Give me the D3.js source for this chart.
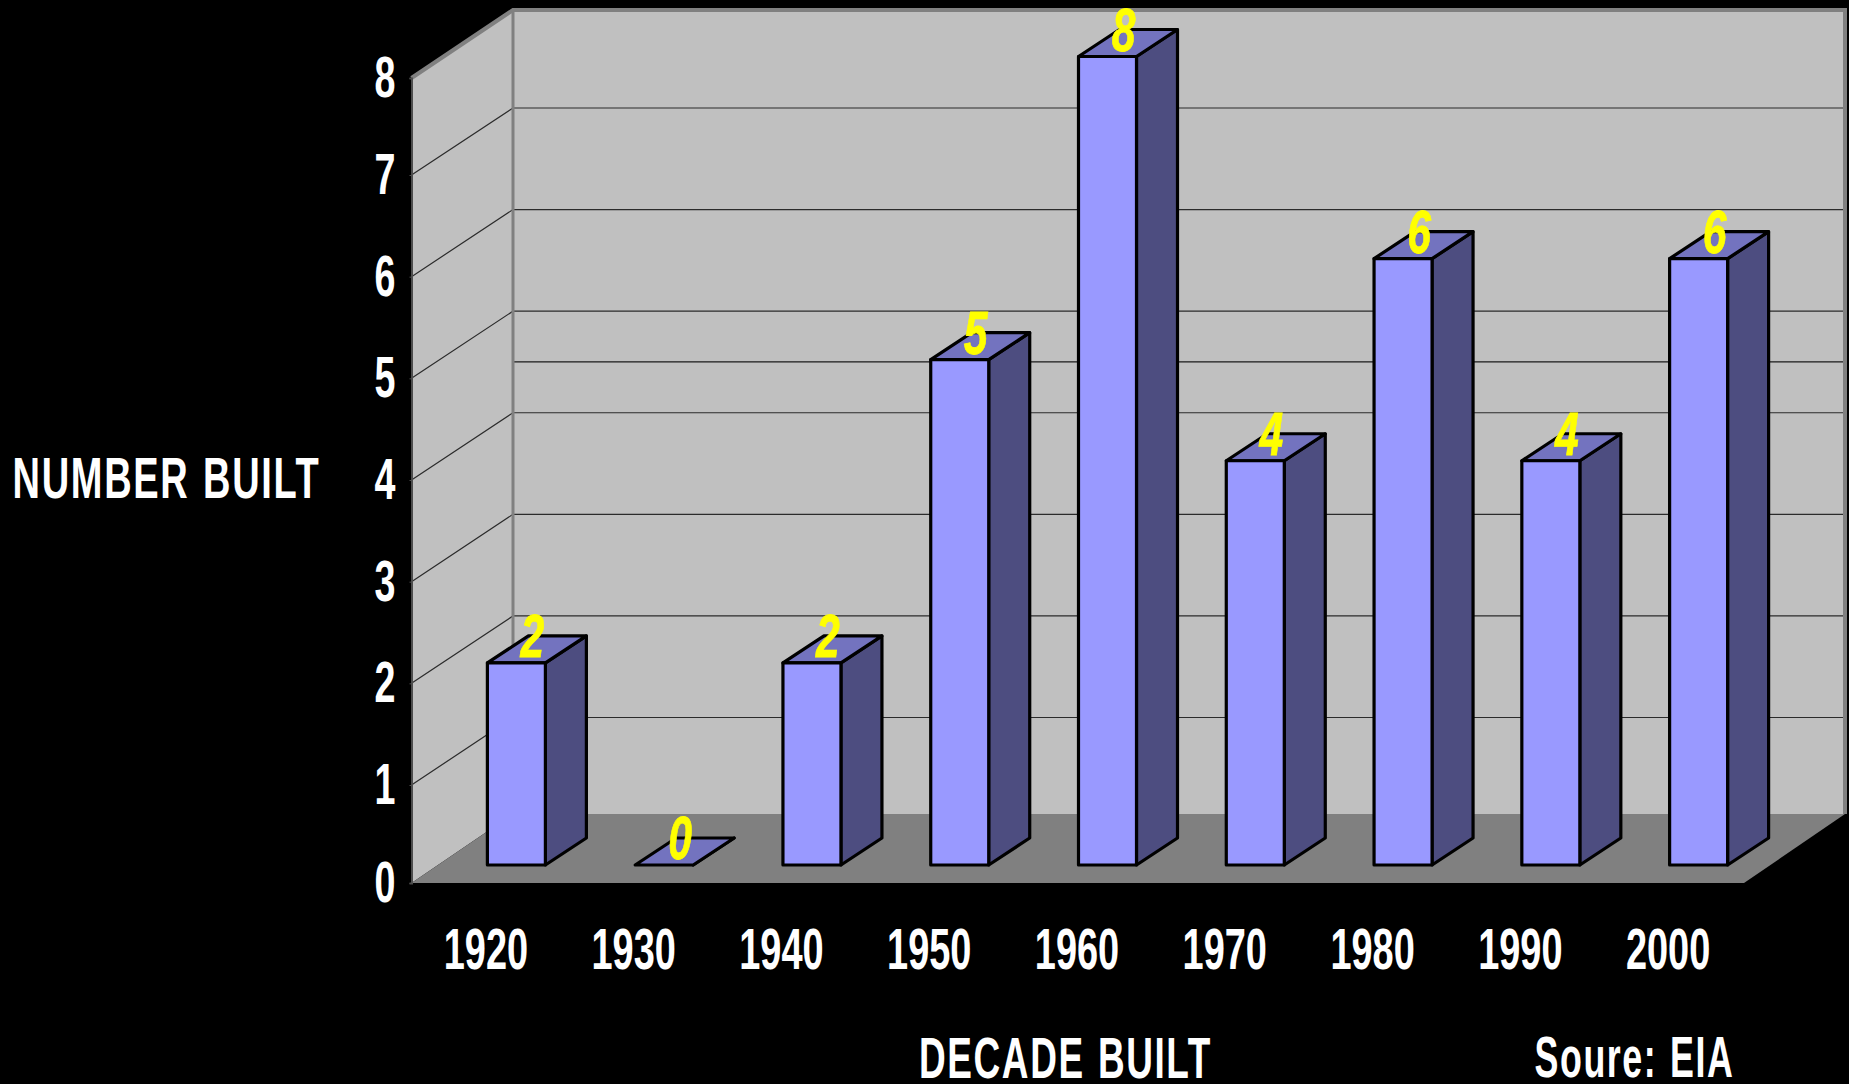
<!DOCTYPE html>
<html>
<head>
<meta charset="utf-8">
<script src="https://cdn.jsdelivr.net/npm/d3@7"></script>
<style>
html,body{margin:0;padding:0;background:#000;overflow:hidden}
svg{display:block}
text{font-family:"Liberation Sans",Arial,sans-serif;font-weight:bold}
</style>
</head>
<body>
<svg id="c" width="1849" height="1084"></svg>
<script>
const decades = ["1920","1930","1940","1950","1960","1970","1980","1990","2000"];
const numberBuilt = [2,0,2,5,8,4,6,4,6];
const yTicks = [0,1,2,3,4,5,6,7,8];
const extraGridValues = [4.5];
const yAxisTitle = "NUMBER BUILT";
const xAxisTitle = "DECADE BUILT";
const sourceNote = "Soure: EIA";

const svg = d3.select("#c");
const W0 = 411.5, W1 = 513, WR = 1845, FR = 1744;
const FLOOR_FRONT = 883, FLOOR_BACK = 814, TOP_BACK = 10, TOP_FRONT = 78;
const DX = 41, DY = -27, BAR_W = 58, BAR_SHIFT = 2;

const x = d3.scaleBand().domain(decades).range([W0, 1741.5]);
const yFront = d3.scaleLinear().domain([0,1,7,8]).range([FLOOR_FRONT,785,175,TOP_FRONT]);
const yBack  = d3.scaleLinear().domain([0,1,7,8]).range([FLOOR_BACK,717.5,108,TOP_BACK]);
const yBar   = d3.scaleLinear().domain([0,8]).range([865,56.5]);

const pts = a => a.map(p => p.join(",")).join(" ");

// walls and floor
svg.append("polygon").attr("points", pts([[W1,TOP_BACK],[WR,TOP_BACK],[WR,FLOOR_BACK],[W1,FLOOR_BACK]])).attr("fill","#c0c0c0");
svg.append("polygon").attr("points", pts([[W0,TOP_FRONT],[W1,TOP_BACK],[W1,FLOOR_BACK],[W0,FLOOR_FRONT]])).attr("fill","#c0c0c0");
svg.append("polygon").attr("points", pts([[W0,FLOOR_FRONT],[W1,FLOOR_BACK],[WR,FLOOR_BACK],[FR,FLOOR_FRONT]])).attr("fill","#808080");

// gridlines
const inner = yTicks.filter(v => v>0 && v<8);
svg.append("g").selectAll("path").data(inner).join("path")
  .attr("d", v => `M${W0},${yFront(v)}L${W1},${yBack(v)}L${WR-2},${yBack(v)}`)
  .attr("fill","none").attr("stroke","#2b2b2b").attr("stroke-width",1.2);
svg.append("g").selectAll("line").data(extraGridValues).join("line")
  .attr("x1",W1).attr("x2",WR-2).attr("y1",v=>yBack(v)).attr("y2",v=>yBack(v))
  .attr("stroke","#1a1a1a").attr("stroke-width",1.2);

// wall edges
svg.append("path").attr("d",`M${W0},${TOP_FRONT}L${W1},${TOP_BACK}L${WR},${TOP_BACK}L${WR},${FLOOR_BACK}`)
  .attr("fill","none").attr("stroke","#808080").attr("stroke-width",4);
svg.append("line").attr("x1",W1).attr("x2",W1).attr("y1",TOP_BACK).attr("y2",FLOOR_BACK)
  .attr("stroke","#808080").attr("stroke-width",3);

// y axis
const yAxis = svg.append("g").attr("transform",`translate(${W0},0)`)
  .call(d3.axisLeft(yFront).tickValues(yTicks).tickSize(2).tickFormat(d3.format("d")));
yAxis.selectAll("path.domain").attr("stroke","#4d4d4d").attr("stroke-width",2);
yAxis.selectAll(".tick line").attr("stroke","#4d4d4d");
yAxis.selectAll("text").attr("x",0).attr("dy",0).attr("y",0)
  .attr("text-anchor","end").attr("fill","#fff").style("font-size","57px")
  .attr("transform","translate(-16,18.5) scale(0.66,1)");
yAxis.attr("font-family",null).attr("font-size",null);

// x axis
const xAxis = svg.append("g").attr("transform",`translate(0,${FLOOR_FRONT})`)
  .call(d3.axisBottom(x).tickSize(0));
xAxis.select("path.domain").remove();
xAxis.selectAll("text").attr("x",0).attr("y",0).attr("dy",0)
  .attr("text-anchor","middle").attr("fill","#fff").style("font-size","57px")
  .attr("transform","translate(0.5,86) scale(0.665,1)");
xAxis.attr("font-family",null).attr("font-size",null);

// bars
const rows = decades.map((d,i)=>({d, v:numberBuilt[i]}));
const bar = svg.append("g").selectAll("g").data(rows).join("g");
const left = r => x(r.d)+x.bandwidth()/2+BAR_SHIFT;
const base = yBar(0);
bar.append("polygon").attr("points", r => { const l=left(r)+BAR_W, t=yBar(r.v);
    return pts([[l,base],[l+DX,base+DY],[l+DX,t+DY],[l,t]]); })
  .attr("fill","#4d4d80");
bar.append("polygon").attr("points", r => { const l=left(r), t=yBar(r.v);
    return pts([[l,t],[l+DX,t+DY],[l+BAR_W+DX,t+DY],[l+BAR_W,t]]); })
  .attr("fill","#7373bf");
bar.append("rect").attr("x",left).attr("y",r=>yBar(r.v)).attr("width",BAR_W).attr("height",r=>base-yBar(r.v))
  .attr("fill","#9999ff");
bar.selectAll("polygon,rect").attr("stroke","#000").attr("stroke-width",3.2).attr("stroke-linejoin","round");

// value labels
svg.append("g").selectAll("text").data(rows).join("text")
  .text(r=>r.v)
  .attr("text-anchor","middle").attr("fill","#ffff00").style("font-size","61px").style("font-style","italic")
  .attr("stroke","#ffff00").attr("stroke-width",0.8)
  .attr("transform", r=>`translate(${left(r)+45},${yBar(r.v)-6}) scale(0.7,1)`);

// titles
const title = (s,xp,yp,len)=>svg.append("text").text(s).attr("x",xp).attr("y",yp)
  .attr("fill","#fff").style("font-size","57px").style("letter-spacing","2.5px").style("word-spacing","2px")
  .attr("textLength",len).attr("lengthAdjust","spacingAndGlyphs");
title(yAxisTitle,12.5,498,308);
title(xAxisTitle,919,1078,293);
title(sourceNote,1534.5,1077,200);
</script>
</body>
</html>
